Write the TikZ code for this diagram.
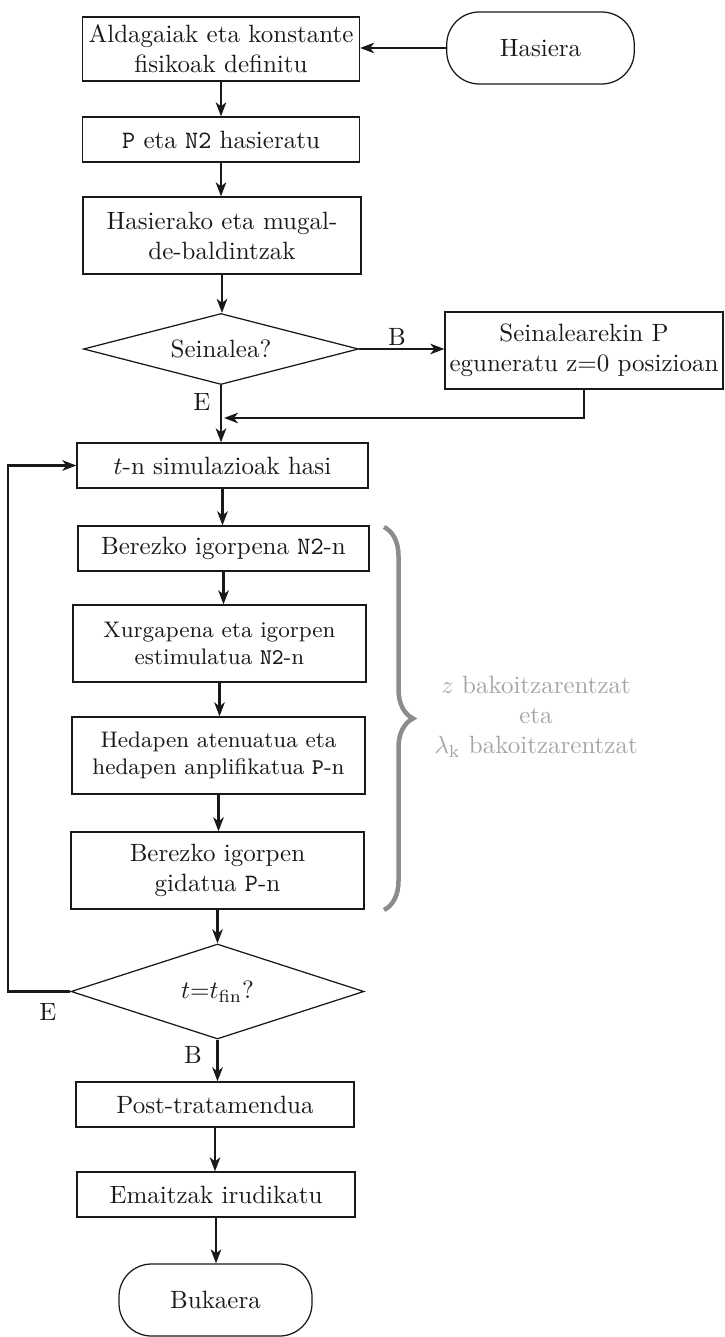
\documentclass[tikz,border=0pt]{standalone}
\usetikzlibrary{shapes.geometric,arrows.meta,decorations.pathreplacing}
\definecolor{ink}{RGB}{25,25,25}
\definecolor{bracegray}{RGB}{140,140,140}
\definecolor{notegray}{RGB}{165,165,165}
\begin{document}
\begin{tikzpicture}[x=0.4pt,y=-0.4pt,
  box/.style={draw=ink,line width=0.5pt,rectangle,align=center,inner sep=0pt,text=ink},
  term/.style={draw=ink,line width=0.5pt,rectangle,rounded corners=13pt,align=center,inner sep=0pt,text=ink,minimum width=75pt,minimum height=28.8pt},
  cond/.style={draw=ink,line width=0.5pt,diamond,align=center,inner sep=0pt,text=ink},
  arr/.style={draw=ink,line width=0.9pt,-{Stealth[length=5.6pt,width=4.2pt,inset=1.6pt]}},
  lbl/.style={text=ink,inner sep=0pt},
  note/.style={text=notegray,align=center,inner sep=0pt}]
\useasboundingbox (0,0) rectangle (725,1337);

\node[term] (has) at (540.5,48) {Hasiera};
\node[box,minimum width=110.8pt,minimum height=25.6pt] (b1) at (221,49) {Aldagaiak eta konstante\\fisikoak definitu};
\node[box,minimum width=110.8pt,minimum height=18pt] (b2) at (221,139.5) {\texttt{P} eta \texttt{N2} hasieratu};
\node[box,minimum width=111.2pt,minimum height=30.8pt] (b3) at (222,235.5) {Hasierako eta mugal-\\de-baldintzak};
\node[cond,shape aspect=3.9,minimum width=110pt,minimum height=28.4pt] (d1) at (221,349) {Seinalea?};
\node[box,minimum width=111.2pt,minimum height=30.8pt] (r) at (584,350.5) {Seinalearekin P\\eguneratu z=0 posizioan};
\node[box,minimum width=116.4pt,minimum height=18pt] (tn) at (222.5,465.5) {$t$-n simulazioak hasi};
\node[box,minimum width=116.4pt,minimum height=18pt] (ber) at (223.5,548.5) {Berezko igorpena \texttt{N2}-n};
\node[box,minimum width=117.2pt,minimum height=30.8pt,font=\small] (xur) at (219.5,643.5) {Xurgapena eta igorpen\\estimulatua \texttt{N2}-n};
\node[box,minimum width=117.2pt,minimum height=30.8pt,font=\small] (hed) at (218.5,755.5) {Hedapen atenuatua eta\\hedapen anplifikatua \texttt{P}-n};
\node[box,minimum width=117.2pt,minimum height=30.8pt] (gid) at (217.5,870.5) {Berezko igorpen\\gidatua \texttt{P}-n};
\node[cond,shape aspect=3.1,minimum width=117.2pt,minimum height=38pt] (d2) at (217.5,991.5) {$t{=}t_{\mathrm{fin}}$?};
\node[box,minimum width=111.2pt,minimum height=18pt] (post) at (215,1104.5) {Post-tratamendua};
\node[box,minimum width=111.2pt,minimum height=18pt] (emai) at (216,1194.5) {Emaitzak irudikatu};
\node[term,minimum width=77.2pt] (buk) at (215.5,1300) {Bukaera};

\coordinate (j) at (224,418);
\coordinate (lp) at (8,991.5);
\coordinate (bt) at (384,527);
\coordinate (bb) at (384,910);

\draw[arr] (has.west) -- (has.west -| b1.east);
\draw[arr] (b1.south) -- (b1.south |- b2.north);
\draw[arr] (b2.south) -- (b2.south |- b3.north);
\draw[arr] (b3.south) -- (b3.south |- d1.north);
\draw[arr] (d1.east) -- (d1.east -| r.west);
\draw[arr] (d1.south) -- (d1.south |- tn.north);
\draw[arr] (r.south) |- (j);
\draw[arr] (tn.south) -- (tn.south |- ber.north);
\draw[arr] (ber.south) -- (ber.south |- xur.north);
\draw[arr] (xur.south) -- (xur.south |- hed.north);
\draw[arr] (hed.south) -- (hed.south |- gid.north);
\draw[arr] (gid.south) -- (gid.south |- d2.north);
\draw[arr] (d2.south) -- (d2.south |- post.north);
\draw[arr] (post.south) -- (post.south |- emai.north);
\draw[arr] (emai.south) -- (emai.south |- buk.north);
\draw[arr] (d2.west) -- (lp) |- (tn.west);

\node[lbl] (lB1) at (397,337) {B};
\node[lbl] (lE1) at (202,402) {E};
\node[lbl] (lE2) at (48,1012) {E};
\node[lbl] (lB2) at (193,1055) {B};

\draw[bracegray,line width=1.8pt,decorate,decoration={brace,amplitude=11.6pt}] (bt) -- (bb);
\node[note] (nt) at (536,717) {$z$ bakoitzarentzat\\eta\\$\lambda_{\mathrm{k}}$ bakoitzarentzat};
\end{tikzpicture}
\end{document}
